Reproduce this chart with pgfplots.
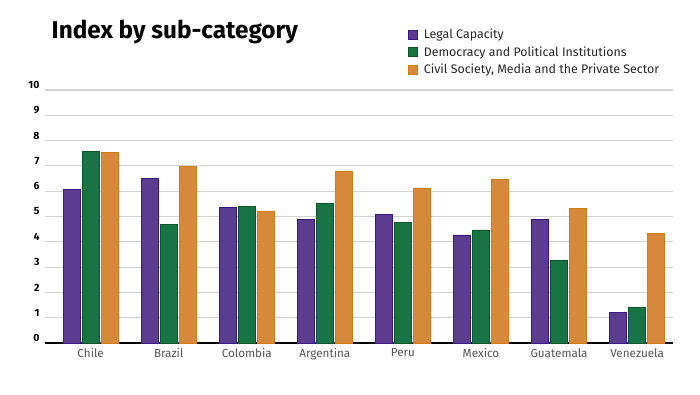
\documentclass[border=0pt]{standalone}
\usepackage{pgfplots}
\pgfplotsset{compat=1.18}
\usepackage{fontspec}
\setmainfont{Fira Sans}
\definecolor{cpurple}{HTML}{5B3C8F}
\definecolor{cpurpleb}{HTML}{3A1786}
\definecolor{cgreen}{HTML}{187345}
\definecolor{cgreenb}{HTML}{0B5626}
\definecolor{corange}{HTML}{D6893A}
\definecolor{corangeb}{HTML}{D27D12}
\definecolor{gridc}{HTML}{D2D2D2}
\definecolor{xlab}{HTML}{555555}
\begin{document}
\begin{tikzpicture}
\path[use as bounding box] (0,0) rectangle (700pt,394pt);
\node[anchor=west, inner sep=0pt, font=\fontsize{24.3}{28}\selectfont\bfseries] at (51.5pt,362pt) {Index by sub-category};
\begin{axis}[
  at={(45pt,51pt)}, anchor=south west,
  scale only axis,
  width=628pt, height=253pt,
  xmin=-0.585, xmax=7.46,
  ymin=0, ymax=10,
  ybar=2pt, bar width=17pt,
  xtick=data,
  xticklabels={Chile,Brazil,Colombia,Argentina,Peru,Mexico,Guatemala,Venezuela},
  ytick={0,1,...,10},
  ymajorgrids,
  grid style={gridc, line width=1.1pt},
  axis x line*=bottom,
  axis y line*=left,
  x axis line style={black, line width=1.2pt, -},
  y axis line style={draw=none},
  tick style={draw=none},
  /pgf/number format/assume math mode=true,
  xticklabel style={font=\fontsize{11.7}{13}\selectfont, text=xlab, yshift=2pt},
  yticklabel style={font=\fontsize{10.5}{12}\selectfont\bfseries, xshift=-2pt, yshift=5pt},
  legend style={at={(0.573,1.258)}, anchor=north west, draw=none, fill=none,
    font=\fontsize{12.4}{14}\selectfont, row sep=2.5pt, text=black!85,
    /tikz/every odd column/.append style={column sep=4pt}},
  legend cell align=left,
  legend image code/.code={\draw[#1, line width=0.8pt] (0pt,-4.5pt) rectangle (9pt,4.5pt);},
]
\addplot[fill=cpurple, draw=cpurpleb, line width=0.8pt] coordinates {(0,6.06) (1,6.50) (2,5.34) (3,4.87) (4,5.07) (5,4.27) (6,4.87) (7,1.19)};
\addplot[fill=cgreen, draw=cgreenb, line width=0.8pt] coordinates {(0,7.56) (1,4.68) (2,5.38) (3,5.50) (4,4.76) (5,4.47) (6,3.26) (7,1.39)};
\addplot[fill=corange, draw=corangeb, line width=0.8pt] coordinates {(0,7.52) (1,6.97) (2,5.22) (3,6.77) (4,6.13) (5,6.45) (6,5.33) (7,4.34)};
\legend{Legal Capacity, Democracy and Political Institutions, {Civil Society, Media and the Private Sector}}
\end{axis}
\end{tikzpicture}
\end{document}
